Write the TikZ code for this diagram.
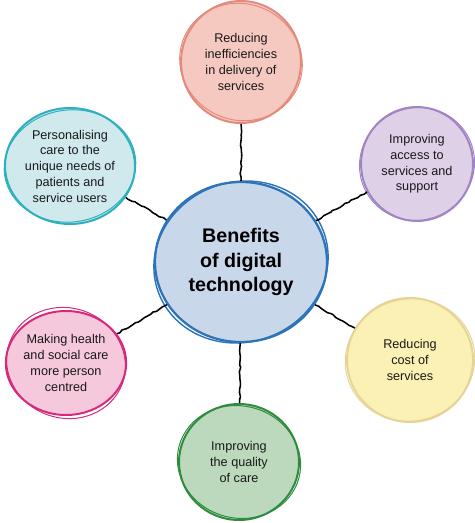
\documentclass[tikz,border=0pt]{standalone}
\usepackage{fontspec}
\setmainfont{Liberation Sans}
\usetikzlibrary{shapes.geometric,decorations.pathmorphing}
\definecolor{hubfill}{HTML}{C9D7EB}
\definecolor{hubline}{HTML}{2C73B7}
\definecolor{topfill}{HTML}{F5C9C0}
\definecolor{topline}{HTML}{E3897D}
\definecolor{tealfill}{HTML}{D0E9EC}
\definecolor{tealline}{HTML}{2FAFBE}
\definecolor{purpfill}{HTML}{DDD0E7}
\definecolor{purpline}{HTML}{A283C4}
\definecolor{magfill}{HTML}{F6C8DC}
\definecolor{magline}{HTML}{D42A7C}
\definecolor{yelfill}{HTML}{FBF1B5}
\definecolor{yelline}{HTML}{E6D497}
\definecolor{grnfill}{HTML}{BCD9BE}
\definecolor{grnline}{HTML}{2F8C3F}
\tikzset{
  bubble/.style={ellipse, line width=1.4pt, inner sep=0pt, align=center,
    font=\fontsize{9}{11.2}\selectfont, text=black!90},
  sketch/.style={line width=0.7pt},
  wiggle/.style={decorate, decoration={random steps, segment length=2.5pt, amplitude=0.6pt},
    line width=1.1pt, line join=round}
}
\begin{document}
\begin{tikzpicture}[x=0.25mm, y=-0.25mm]
  \useasboundingbox (0,0) rectangle (474,523);
  % centre
  \node[bubble, fill=hubfill, draw=hubline, line width=1.6pt, minimum width=43mm, minimum height=40mm,
    font=\fontsize{14}{17.5}\bfseries, text=black] (hub) at (241,262) {Benefits\\of digital\\technology};
  \draw[hubline, sketch, line width=1pt, rotate around={20:(hub.center)}] (hub.center) ellipse (88 and 80);
  % outer bubbles
  \node[bubble, fill=topfill, draw=topline, minimum width=30mm, minimum height=30.5mm] (reduce) at (241,62)
    {Reducing\\inefficiencies\\in delivery of\\services};
  \draw[topline, sketch, rotate around={-25:(reduce.center)}] (reduce.center) ellipse (62 and 58);
  \node[bubble, fill=tealfill, draw=tealline, minimum width=32.5mm, minimum height=29mm] (person) at (70,166)
    {Personalising\\care to the\\unique needs of\\patients and\\service users};
  \draw[tealline, sketch, rotate around={8:(person.center)}] (person.center) ellipse (66 and 56);
  \node[bubble, fill=purpfill, draw=purpline, minimum width=28mm, minimum height=28.5mm] (access) at (417,164)
    {Improving\\access to\\services and\\support};
  \draw[purpline, sketch, rotate around={30:(access.center)}] (access.center) ellipse (58 and 56);
  \node[bubble, fill=magfill, draw=magline, minimum width=29mm, minimum height=26mm] (centred) at (66,363)
    {Making health\\and social care\\more person\\centred};
  \draw[magline, sketch, rotate around={-20:(centred.center)}] (centred.center) ellipse (60 and 55);
  \node[bubble, fill=yelfill, draw=yelline, minimum width=31.5mm, minimum height=31mm] (cost) at (410,360)
    {Reducing\\cost of\\services};
  \draw[yelline, sketch, rotate around={15:(cost.center)}] (cost.center) ellipse (65 and 61);
  \node[bubble, fill=grnfill, draw=grnline, minimum width=30mm, minimum height=29mm] (quality) at (239,462)
    {Improving\\the quality\\of care};
  \draw[grnline, sketch, rotate around={-15:(quality.center)}] (quality.center) ellipse (62 and 56);
  % connectors
  \draw[wiggle] (reduce) -- (hub);
  \draw[wiggle] (person) -- (hub);
  \draw[wiggle] (access) -- (hub);
  \draw[wiggle] (centred) -- (hub);
  \draw[wiggle] (cost) -- (hub);
  \draw[wiggle] (quality) -- (hub);
\end{tikzpicture}
\end{document}
